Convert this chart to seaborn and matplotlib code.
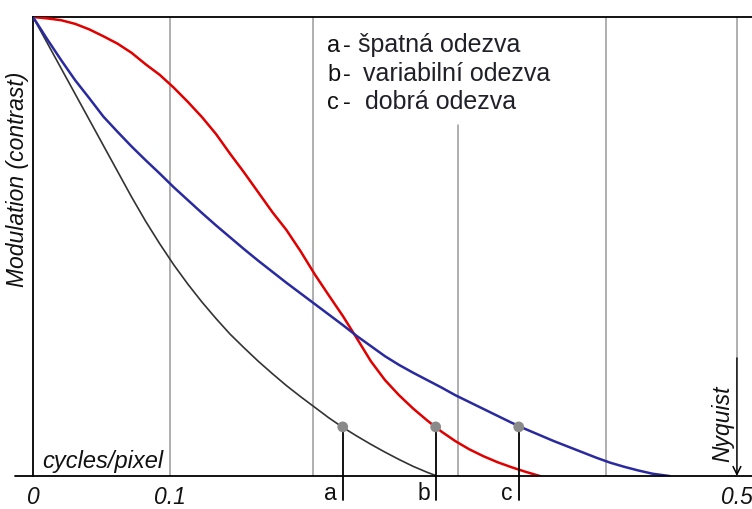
import matplotlib
matplotlib.use("Agg")
import matplotlib.pyplot as plt
import seaborn as sns
import pandas as pd

# MTF curves: spatial frequency (cycles/pixel) vs modulation
freq_a = [0, 0.01, 0.02, 0.03, 0.04, 0.05, 0.06, 0.07, 0.08, 0.09, 0.10,
          0.11, 0.12, 0.13, 0.14, 0.15, 0.16, 0.17, 0.18, 0.19, 0.20,
          0.21, 0.22, 0.23, 0.24, 0.25, 0.26, 0.27, 0.28, 0.287]
mod_a = [1.0, 0.944, 0.888, 0.832, 0.776, 0.720, 0.664, 0.608, 0.555, 0.506, 0.460,
         0.418, 0.379, 0.343, 0.309, 0.279, 0.250, 0.223, 0.197, 0.173, 0.150,
         0.127, 0.106, 0.087, 0.069, 0.052, 0.036, 0.021, 0.008, 0.0]

freq_b = [0, 0.01, 0.02, 0.03, 0.04, 0.05, 0.06, 0.07, 0.08, 0.09, 0.10,
          0.11, 0.12, 0.13, 0.14, 0.15, 0.16, 0.17, 0.18, 0.19, 0.20,
          0.21, 0.22, 0.23, 0.24, 0.25, 0.26, 0.27, 0.28, 0.29, 0.30,
          0.31, 0.32, 0.33, 0.34, 0.35, 0.36]
mod_b = [1.0, 0.997, 0.993, 0.985, 0.973, 0.958, 0.942, 0.922, 0.897, 0.874, 0.846,
         0.815, 0.782, 0.745, 0.702, 0.661, 0.618, 0.575, 0.536, 0.490, 0.440,
         0.394, 0.349, 0.300, 0.250, 0.209, 0.176, 0.147, 0.121, 0.097, 0.076,
         0.058, 0.043, 0.030, 0.019, 0.009, 0.0]

freq_c = [0, 0.01, 0.02, 0.03, 0.04, 0.05, 0.06, 0.07, 0.08, 0.09, 0.10,
          0.11, 0.12, 0.13, 0.14, 0.15, 0.16, 0.17, 0.18, 0.19, 0.20,
          0.21, 0.22, 0.23, 0.24, 0.25, 0.26, 0.27, 0.28, 0.29, 0.30,
          0.31, 0.32, 0.33, 0.34, 0.35, 0.36, 0.37, 0.38, 0.39, 0.40,
          0.41, 0.42, 0.43, 0.44, 0.452]
mod_c = [1.0, 0.952, 0.906, 0.862, 0.823, 0.783, 0.750, 0.718, 0.688, 0.659, 0.629,
         0.601, 0.573, 0.546, 0.520, 0.494, 0.469, 0.445, 0.421, 0.398, 0.375,
         0.352, 0.329, 0.305, 0.283, 0.261, 0.242, 0.225, 0.209, 0.193, 0.176,
         0.161, 0.146, 0.131, 0.116, 0.102, 0.089, 0.076, 0.064, 0.052, 0.040,
         0.029, 0.020, 0.012, 0.005, 0.0]

# frequencies where each curve drops to the threshold modulation
marker_freq = [0.220, 0.286, 0.345]
marker_mod = [0.107, 0.107, 0.107]
marker_labels = ["a", "b", "c"]

legend_keys = ["a", "b", "c"]
legend_texts = ["špatná odezva", "variabilní odezva", "dobrá odezva"]

grid_x = [0.097, 0.199, 0.302, 0.407]
nyquist = 0.5
tick_pos = [0, 0.097, 0.5]
tick_text = ["0", "0.1", "0.5"]

sns.set_theme(style="white")
plt.rcParams["font.family"] = ["Liberation Sans", "DejaVu Sans"]

fig = plt.figure(figsize=(7.52, 5.09), dpi=100)
ax = fig.add_axes([33 / 752, 33 / 509, 719 / 752, 459 / 509])
ax.set_xlim(0, 0.5107)
ax.set_ylim(0, 1)

grid_col = "#9a9a9a"
for gx in grid_x:
    ymax = 0.765 if gx == 0.302 else 1.0
    ax.axvline(gx, ymin=0, ymax=ymax, color=grid_col, lw=1.1, zorder=1)
ax.axvline(nyquist, ymin=0.257, ymax=1.0, color=grid_col, lw=1.1, zorder=1)

curves = pd.concat([
    pd.DataFrame({"f": freq_a, "m": mod_a, "k": "a"}),
    pd.DataFrame({"f": freq_b, "m": mod_b, "k": "b"}),
    pd.DataFrame({"f": freq_c, "m": mod_c, "k": "c"}),
])
styles = {"a": ("#333333", 1.2), "b": ("#e00000", 1.8), "c": ("#2a2aa0", 1.8)}
for key, sub in curves.groupby("k"):
    col, lw = styles[key]
    sns.lineplot(data=sub, x="f", y="m", ax=ax, color=col, lw=lw,
                 estimator=None, sort=False, zorder=3, legend=False)

# threshold markers with drop lines below the axis
for fx, my, lab in zip(marker_freq, marker_mod, marker_labels):
    ax.plot([fx, fx], [my, -0.052], color="black", lw=1.3, clip_on=False, zorder=4)
    ax.text(fx - 0.0085, -0.039, lab, ha="center", va="center", fontsize=16.5,
            color="#111111")
sns.scatterplot(x=marker_freq, y=marker_mod, ax=ax, color="#8a8a8a", s=60,
                edgecolor="none", zorder=5, legend=False)

# Nyquist arrow
ax.annotate("", xy=(nyquist, 0), xytext=(nyquist, 0.257),
            arrowprops=dict(arrowstyle="->", color="black", lw=1.1,
                            shrinkA=0, shrinkB=0, mutation_scale=14))
ax.text(0.490, 0.0305, "Nyquist", rotation=90, ha="center", va="bottom",
        fontsize=16.5, style="italic", color="#111111")

# frame
for side in ["right", "bottom"]:
    ax.spines[side].set_visible(False)
for side in ["top", "left"]:
    ax.spines[side].set_color("black")
    ax.spines[side].set_linewidth(1.3)
ax.plot([-0.0128, 0.5107], [0, 0], color="black", lw=1.3, clip_on=False, zorder=6)

ax.set_xticks(tick_pos)
ax.set_xticklabels(tick_text, fontsize=16.5, style="italic", color="#111111")
ax.tick_params(axis="x", length=0, pad=7)
ax.set_yticks([])
ax.set_xlabel("")
ax.set_ylabel("")

ax.text(0.0064, 0.0174, "cycles/pixel", ha="left", va="baseline",
        fontsize=17, style="italic", color="#111111")
ax.text(-0.0107, 0.647, "Modulation (contrast)", rotation=90, ha="center",
        va="center", fontsize=16.5, style="italic", color="#111111", clip_on=False)

# legend text block: key letter, dash, description
legend_y = [0.924, 0.861, 0.800]
legend_text_x = [0.2312, 0.2344, 0.2358]
for key, txt, ly, tx in zip(legend_keys, legend_texts, legend_y, legend_text_x):
    ax.text(0.2088, ly, key, ha="left", va="baseline", fontsize=17, color="#111111")
    ax.text(0.2200, ly, "-", ha="left", va="baseline", fontsize=17, color="#111111")
    ax.text(tx, ly, txt, ha="left", va="baseline", fontsize=18, color="#202028")

fig.savefig("out.png", dpi=100)
